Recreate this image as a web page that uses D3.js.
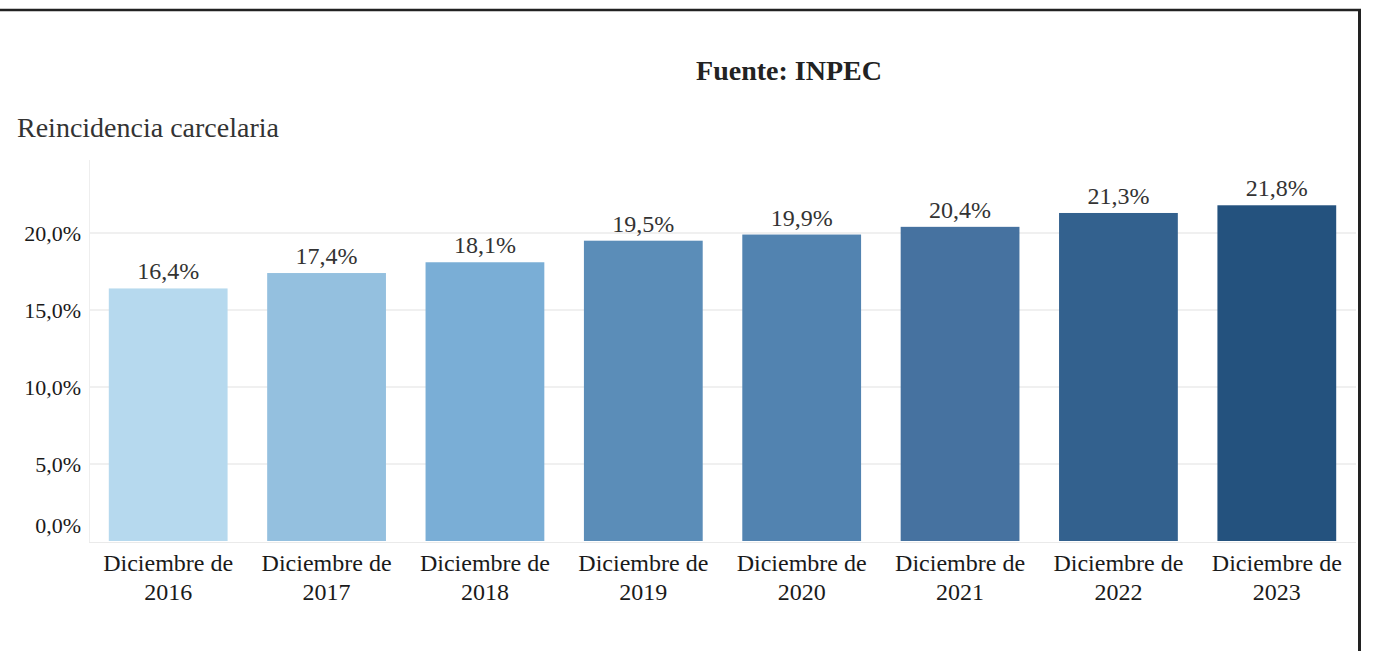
<!DOCTYPE html>
<html>
<head>
<meta charset="utf-8">
<script src="https://cdn.jsdelivr.net/npm/d3@7"></script>
<style>
  html, body { margin: 0; padding: 0; background: #fff; }
  svg { display: block; font-family: "Liberation Serif", "Times New Roman", serif; }
</style>
</head>
<body>
<script>
// Chart data
const categories = ["2016", "2017", "2018", "2019", "2020", "2021", "2022", "2023"];
const values = [16.4, 17.4, 18.1, 19.5, 19.9, 20.4, 21.3, 21.8];
const barColors = ["#b6d9ee", "#94c0df", "#7aaed6", "#5b8db8", "#5283b0", "#4672a0", "#33618e", "#24527e"];
const yTicks = [0, 5, 10, 15, 20];

const WIDTH = 1373;
const HEIGHT = 651;

const fmt = v => v.toFixed(1).replace(".", ",") + "%";

function initCanvas() {
    return d3.select("body")
        .append("svg")
        .attr("width", WIDTH)
        .attr("height", HEIGHT);
}

function drawFrame(svg) {
    // top and right border lines
    svg.append("line")
        .attr("x1", 0).attr("x2", 1361)
        .attr("y1", 10).attr("y2", 10)
        .attr("stroke", "#222").attr("stroke-width", 2.5);
    svg.append("line")
        .attr("x1", 1359.5).attr("x2", 1359.5)
        .attr("y1", 9).attr("y2", HEIGHT)
        .attr("stroke", "#222").attr("stroke-width", 3);

    svg.append("text")
        .attr("x", 789).attr("y", 80)
        .attr("text-anchor", "middle")
        .attr("font-size", 28).attr("font-weight", "bold")
        .attr("fill", "#222")
        .text("Fuente: INPEC");

    svg.append("text")
        .attr("x", 17).attr("y", 137)
        .attr("font-size", 28)
        .attr("fill", "#333")
        .text("Reincidencia carcelaria");
}

function drawChart(svg) {
    const x = d3.scaleBand()
        .domain(categories)
        .range([89, 1356])
        .paddingInner(0.25)
        .paddingOuter(0.125);

    const y = d3.scaleLinear()
        .domain([0, 20])
        .range([541, 233]);

    // gridlines
    svg.append("g")
        .selectAll("line")
        .data(yTicks.filter(d => d > 0))
        .join("line")
        .attr("x1", 90).attr("x2", 1356)
        .attr("y1", d => y(d)).attr("y2", d => y(d))
        .attr("stroke", "#f0f0f0").attr("stroke-width", 2);

    // left axis line
    svg.append("line")
        .attr("x1", 89.5).attr("x2", 89.5)
        .attr("y1", 160).attr("y2", 543)
        .attr("stroke", "#eeeeee").attr("stroke-width", 1);

    // y axis labels
    const yAxis = svg.append("g")
        .attr("transform", "translate(81,0)")
        .call(d3.axisLeft(y).tickValues(yTicks).tickFormat(fmt).tickSize(0).tickPadding(0));
    yAxis.select(".domain").remove();
    yAxis.selectAll("text")
        .attr("font-family", "Liberation Serif, serif")
        .attr("font-size", 22)
        .attr("fill", "#1a1a1a")
        .attr("dy", d => d === 0 ? "-0.4em" : "0.32em"); // bottom label sits above the baseline

    // bars
    svg.append("g")
        .selectAll("rect")
        .data(values)
        .join("rect")
        .attr("x", (d, i) => x(categories[i]))
        .attr("width", x.bandwidth())
        .attr("y", d => y(d))
        .attr("height", d => y(0) - y(d))
        .attr("fill", (d, i) => barColors[i]);

    // value labels
    svg.append("g")
        .selectAll("text")
        .data(values)
        .join("text")
        .attr("x", (d, i) => x(categories[i]) + x.bandwidth() / 2)
        .attr("y", d => y(d) - 9)
        .attr("text-anchor", "middle")
        .attr("font-size", 24)
        .attr("fill", "#333")
        .text(fmt);

    // bottom axis line
    svg.append("line")
        .attr("x1", 89).attr("x2", 1356)
        .attr("y1", 542.5).attr("y2", 542.5)
        .attr("stroke", "#eaeaea").attr("stroke-width", 1);

    // x labels on two lines
    const xl = svg.append("g")
        .selectAll("text")
        .data(categories)
        .join("text")
        .attr("text-anchor", "middle")
        .attr("font-size", 24)
        .attr("fill", "#1a1a1a");
    xl.append("tspan")
        .attr("x", d => x(d) + x.bandwidth() / 2)
        .attr("y", 571)
        .text("Diciembre de");
    xl.append("tspan")
        .attr("x", d => x(d) + x.bandwidth() / 2)
        .attr("y", 600)
        .text(d => d);
}

function main() {
    const svg = initCanvas();
    drawFrame(svg);
    drawChart(svg);
}

main();
</script>
</body>
</html>
